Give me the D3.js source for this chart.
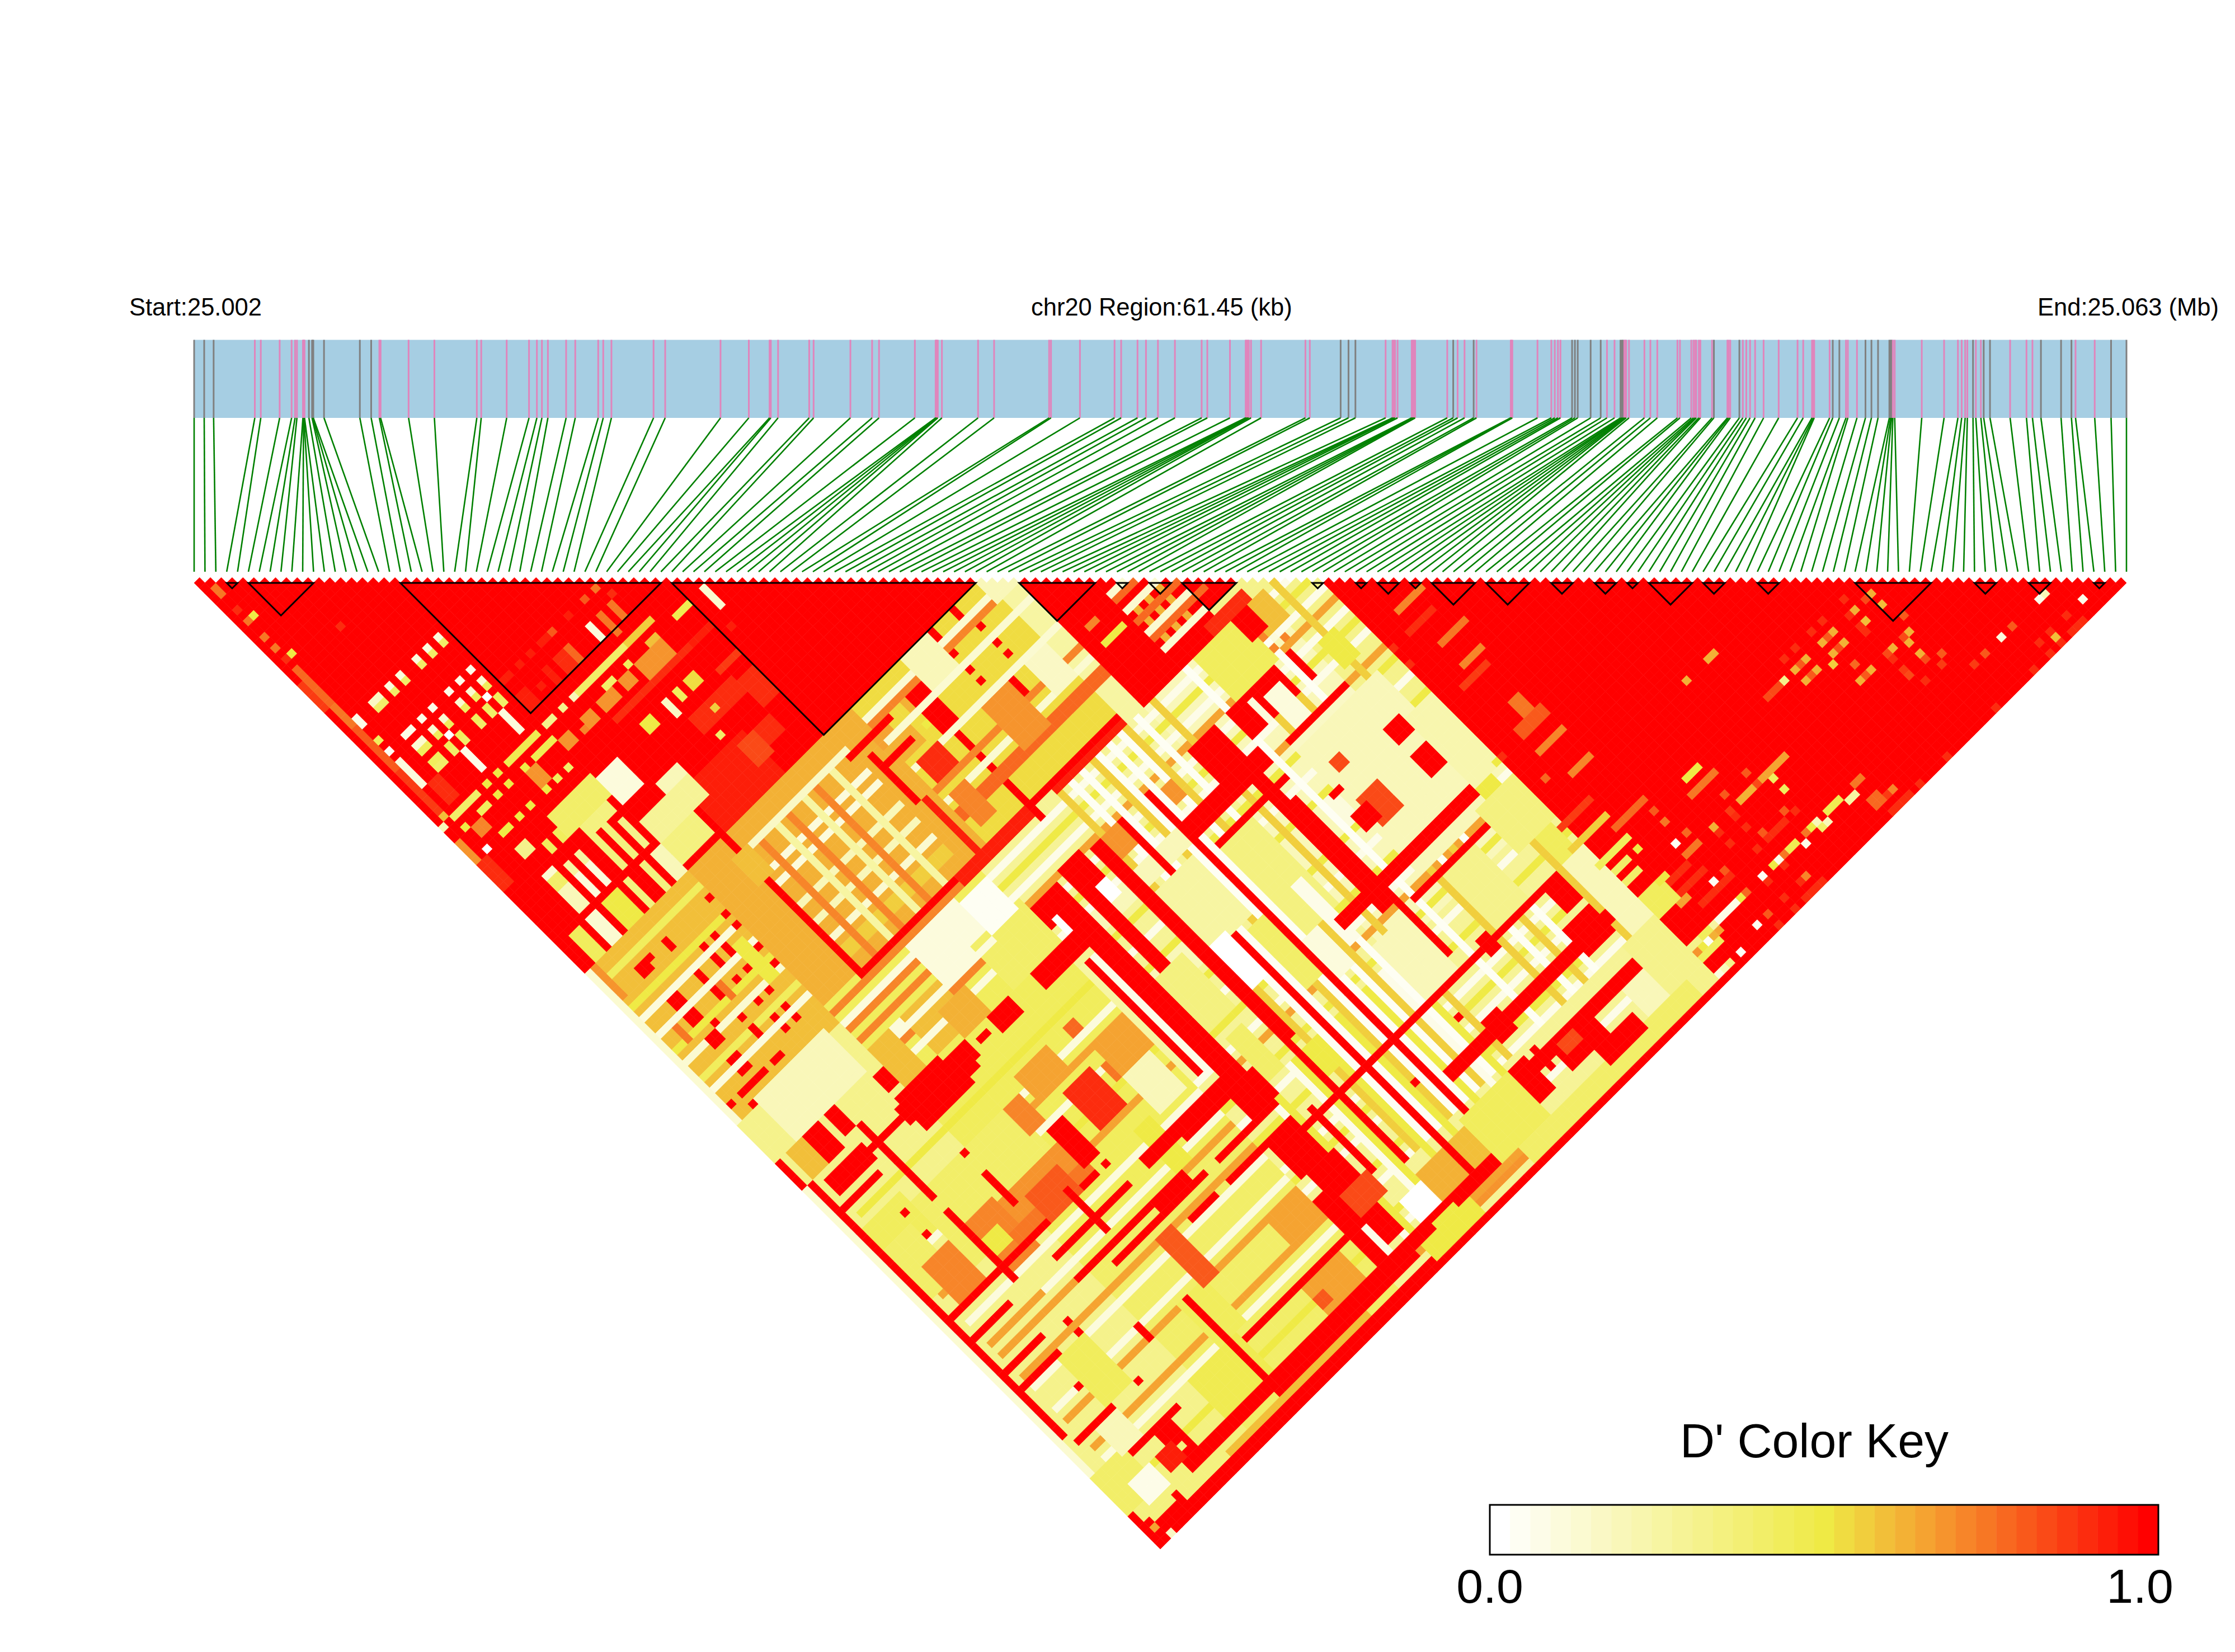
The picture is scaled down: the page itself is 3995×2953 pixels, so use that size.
<!DOCTYPE html>
<html><head><meta charset="utf-8">
<script src="https://cdn.jsdelivr.net/npm/d3@7"></script>
<style>html,body{margin:0;padding:0;background:#fff}svg{display:block}text{font-family:"Liberation Sans",Arial,sans-serif;fill:#000}</style>
</head><body><svg id="c" width="3995" height="2953"></svg>
<script>
const regionKb=61.45, startLabel="Start:25.002", midLabel="chr20 Region:61.45 (kb)", endLabel="End:25.063 (Mb)", keyTitle="D' Color Key", keyTicks=["0.0","1.0"];
const snpKb=[0,.32,.62,1.93,2.12,2.72,3.10,3.21,3.27,3.46,3.48,3.49,3.51,3.65,3.75,3.77,3.79,4.13,5.27,5.63,5.89,5.93,6.82,7.64,8.99,9.13,
9.94,10.65,10.90,11.06,11.25,11.83,12.12,12.85,13.01,13.27,14.61,14.98,16.74,17.64,18.30,18.34,18.57,19.56,19.70,20.87,21.56,21.78,22.92,23.58,23.60,23.62,23.65,23.78,24.93,25.44,27.19,27.25,28.17,29.27,
29.48,30.0,30.27,30.65,31.19,32.04,32.22,32.94,33.44,33.47,33.51,33.54,33.61,33.93,35.34,35.48,36.46,36.71,36.93,37.89,38.11,38.15,38.19,38.27,38.72,38.76,38.79,38.83,39.85,40.04,40.18,40.40,40.69,40.78,41.87,41.89,41.92,42.72,43.16,43.27,43.37,43.45,43.82,43.91,44.0,44.41,44.73,44.93,45.17,45.36,45.41,45.44,45.48,45.51,45.54,45.63,46.12,46.31,46.53,47.17,
47.25,47.61,47.68,47.73,47.77,47.85,47.90,48.27,48.33,48.76,48.80,48.85,49.14,49.25,49.36,49.48,49.64,49.91,50.39,50.99,51.17,51.45,51.49,51.52,52.01,52.11,52.32,52.53,52.59,52.88,53.15,53.34,53.55,53.91,53.95,53.98,54.02,54.08,54.94,55.65,56.09,56.21,56.32,56.39,56.57,56.66,56.82,56.91,57.11,57.75,58.27,58.46,58.73,59.37,59.70,59.83,60.44,60.96,61.45];
const grayKb=[0,.32,.62,3.65,3.75,3.77,3.79,4.13,5.27,5.63,36.46,36.71,36.93,40.04,40.69,43.82,43.91,44.0,44.41,44.73,45.36,45.41,45.44,48.33,49.14,52.11,52.32,53.15,53.34,53.55,53.91,53.95,53.98,56.57,56.91,57.11,58.73,59.37,59.70,60.96,61.45];
const blocks=[[3,4],[5,11],[19,43],[44,72],[76,83],[85,86],[88,90],[91,96],[103,104],[107,108],[109,111],[112,113],[114,118],[119,123],[125,127],[129,131],[132,133],[134,138],[139,141],[144,146],[153,160],[164,166],[169,171],[175,176]];
// D' readings as [SNP rows i, SNP columns j, value]; later readings refine earlier ones
const zones=[["0-178","0-178",.35],["0-18","0-72",1],["19-72","19-72",1],
["19-48","73-97",.62],["49-75","73-97",.52],["0-18","73-100",.58],["0-18","101-170",.32],["19-45","98-145",.45],["46-75","98-145",.28],["19-45","146-178",.42],["46-103","146-178",.28],["76-103","100-145",.2],
["76-96","76-99",1],["91-96","97-99",.3],["97-103","97-125",.3],["73-75","73-107",.25],["104-178","104-178",1]];
// stripes seen across the pale fields, read as whole columns and rows
const fieldStripes=[["3-45","124,129,140,144,152,156,165",.1],["3-45","126,135,146,150,158,163",.66],["3-45","120,132,170",.5],["19-45","99,102,104,108",.72],["19-45","101,106,110",.08],
["46-103","101,105,109,113,121,127,133,139,147,155,159,165,171",.06],["46-103","103,111,118,124,130,136,144,150,157,163,169",.5],["46-103","107,116,141,175",.66],
["50-100","125-128",.18],["62,64,67,69,71,74,83,89,93","100-165",.04],["60,66,72,77,87,91,99","100-165",.55],["52,57,61,65,70,75","146-172",.5],["51,56,73","146-172",.05],
["85,87,89,91,93,95","100,102,104,106",.72],["86,90,94","101,105",.1],["78-79","87",.72],["78-81","90",.5],["83-90","86,89,93,96",.12],["83-92","87,91,94",.78],["84,86,88","90,92,95",.62]];
const leftPatches=[["1","3-4",.75],["1","7",.9],["2","9",.5],["1","9",.75],["1","12",.75],["1","14",.75],["2","16",.5],["1","16",.9],["9","18",.92],
["1","18-24",.78],["0","20-24",.88],["1","25-28",.75],["2","28-29",.05],["1","29-36",.8],["1","37-44",.88],["1","45",.6],["2","32",.45],["2","34",.03],["2","36-37",.1],["2","38-40",.1],
["5-6","28",.15],["5-6","29",.42],["8,10,13,15,17","28",.1],["8,10,13,15,17","29",.42],["5-6,8,10,13,15,17","34",.05],["5-6,8,10,13,15,17","36",.12],["5-6,8,10,13,15,17","37",.45],
["16,9","38",0],["5-6,8,10,13,15,17","39",.45],["5-6,8,10,13,15,17","40",.42],["16","41-44",.1],["9","41-44",.05],["3-4","41-44",.9],
["2-6","46",.42],["0","46",.2],["5-6","48",.45],["10,8","46",.5],["10,8","48",.5],["10,8","52",.5],["5-6","52",.5],["3-4","49-50",.72],["2","48",.5],["2","52",0],["0","49-52",.7],["12-17","46",.48],["19-20","46",.3],["22","46",.3],["24","46",.2],["25-33","46",.42],["34-38","46",.55],
["41-43","48",.48],["36-37","48",.58],["32","48",.45],["28-29","48",.42],["30-31","49-50",.68],["26-28","49-50",.7],["33-37","49-51",.7],["26-39","52",.9],["23-24","49-50",.7],["22","50",.72],["19-20","49-50",.68],["15-18","48",.48],["17","52",.42],["15","52",.45],["13","52",.5],["13-14","49-51",.7],["13","48",.5],
["36","38",.75],["37","40",.92],["34","38",.8],["36","41-43",.75],["34","41-44",.75],["32","41-43",.08],["31","38",.93],["28","38",.8],["26-27","38",.93],["28","41-43",.78],["26-27","41-43",.92],["24","38",.95],["22","38",.95],["24","41-43",.95],["22","42",.95],["19-20","41-43",.95],["19-20","38",.95],
["36-37","55-56",.52],["34","55-56",.45],["32","55-57",.15],["28-29","55-56",.5],["46","48-51",.12],["40-43","57",.88],["40-43","52",.95],["45","54",.93],["41-43","60-64",.9],["33-40","59-61",.92],["26-36","65-72",.93],["36","60",.55],["34","63",.42],["35-37","66-69",.85],["38-40","66-68",.9],
["0-1","53-57",.92],["1","58-72",1],["2","53-57",1],["5-6","55-56",.3],["5-6","60",.12],["5-6","61-62",.4],["8,10","57-58",.45],["8,10","61-62",.25],["13,15","61-62",.35],["8,10","63-66",.08],["13,15","63-66",.35],["5-6","63-66",.2],["17","62-66",.3],
["13-17","57-60",.35],["19-27","64-67",.28],["12,15","68-72",.35],["8-10","68-72",.5],["5-6","68-72",.12],["2-3","68-72",.45],["19-24","68-71",.35],["17-18","68-72",.18],["11-18","55-58",.4],["24-27","62-63",.2],["19-22","56-60",.1]];
const leftLower=[["1-18","75",.45],["1-18","80",.5],["1-18","82",.1],["1-18","85",.1],["1-18","88",.5],["1-18","90",.12],["1-18","93",.45],["1-18","95",.1],
["5-6","77-78,83-84,86-87,90-91,94,96,98",1],["10","77-78,83-84,86-87,91,93-94,98",1],["13,15","81,83-84,87,91,94,96",1],["18","77,80,82,86,89",1],["7","77,89,98",1],["3-4","98,100",1],["1","98",1],["0","73-100",.12],["1","73-78",.7],
["14","100",1],["9","98",1],["3,11","86-88",.75],["16-17","84-90",.5]];
const farLeft=[["5-7","108-112",1],["2-4","108-112",.6],["0","108-112",1],["1","113-120",1],["1","121-159",1],["0","113-172",.14],["11","112-123",1],["9-10","108-111",1],["3-9","114-116",1],["2-8","118",1],["10-18","115",1],["16-24","114-116",1],["26-28","114-116",1],["17-25","118",1],["17-18","109-111",1],["30-31","115",1],["33-36","114-116",1],
["4-16","100-107",.18],["2-8","122-128",.45],["9-17","124-135",.42],["25-31","106-112",.6],["16-26","124-131",.42],["17-27","132-135",.7],["11-16","131-139",.72],["12-14","134-136",.5],["11","131-140",1],["8-16","138",1],["14-28","138",1],["17-30","142",1],["17-36","146",1],["22-38","148",1],["2-8","138,142,148,151,161",1],["11","128-132",1],["11","122-125",1],["18","128-133",1],["7","124,128",1],["18","124",1],["12","149-152",1],["11","157",1],["7","156",1],["18","156-158",1],["13","161",1],["2-6","126-134",.42],["4-8","131-137",.72],["15-28","136-137",.75],["3-12","144",.66],["3-12","150",.66],["30","138",1],["31-36","147-148",1],["30","151",1],["33-37","151",1],["25","146",1],
["2-14","167",1],["10-12","167-170",1],["12","168-172",1],["2-6","175-176",1],["0-5","166-172",.42],["3-6","170-173",.05],["8-12","152-160",.45],["5-8","162-166",.2]];
const mid1=[["25","73-98",1],["55-57","76-84",1],["56","84-100",1],["25-72","98",1],["43-55","98-99",.95],["60-72","99",.95],["67","73-76",1],["63","73-76",1],["63,68","77,80,82",1],["66","84-87",1],["54","77-79",.62],["54","81",.5],
["48-50","77-79",.65],["49-52","80-82",.62],["44-51","77",1],["46-51","81",1],["46","79-87",1],["47","88-97",.95],["26-44","86",.2],["26-44","92",.12],["26-44","80,82",.1],["26-44","89",.18],["26-44","76",.15],["26-44","94-95",.55],["49-75","75,79,84,90",.12],["49-75","76,88",.72],["49-75","92-93",.78],
["28,33,38","77-97",.72],["31,36,41","77-97",.25],["24-26","76-80",.6],["58-62","73-78",.2],["69-72","85-90",.15],["61-65","85-92",.68],["50-53","84-87",.92],["50-52","90-95",.72],["72-75","73-76",.2]];
const midZone=[["46-75","114-116",.2],["41-50","114-116",1],["49-51","108-142",1],["46-48","108-111",1],["48","111-113",0],["48","118-138",.05],["47","118-138",1],["46","118-138",.25],["68","108-172",1],["63","108-173",1],["58-59","108-143",1],["53-56","107-112",1],["55-56","112-114",0],["53-54","112-125",1],
["68-82","114-116",1],["70-82","119",1],["83-90","108-112",1],["86","109-112",.1],["78-79","108-114",1],["76-77","108-114",1],["70-71","109-111",.68],["60-62","108-111",.68],
["38-46","106-113",.42],["41-45","101-106",.02],["32-40","100-105",.08],["22-40","107",.08],["25-37","110",.1],["29-33","109-113",.62],
["39-41","129-131",.75],["39-40","122-123",.78],["40-44","131-138",.2],["40-45","127-131",.65],["19-22","106-112",.58],["17-24","113-117",1],["25-27","114-117",1],["30-35","122-126",.66],["26-28","124-128",.72],["33-37","128-134",.9],["28-30","130-136",1],["20-25","134-138",.8],["24","137-144",1],["36-38","138-145",.5],
["60-66","118-128",.25],["70-75","120-135",.35],["84-88","125-129",.08],["52-56","126-135",.35],["53-55","138-145",.42],["58-60","146-150",.5],["65-67","130-140",.42],["60-62","128-135",0],["73-74","130-140",.05],["69-71","136-142",.08]];
const rightMid=[["94-97","100-104",.6],["85-92","100-107",.45],["98-100","110-114",.5],["94","108-112",1],["91","108-112",1],["86-100","118-140",.2],["87-90","128-132",.85],["88-89","122-123",.85],["85-87","129-131",1],["85-86","125",1],["96-98","129-132",1],["96-98","124-126",1],["86-96","117",.15],["86-96","116",1],["74-98","137-138",1],["83-97","142",1],["48-96","153",1],["70-103","161-162",1],["74-101","168-169",1],["81","122-150",1],["79-80","108-140",1],["96-98","153-157",1],["94-98","159-163",1],["85-86","152-154",1],["78-79","153",1],["78-80","160-163",1],["99-101","138-141",.5],["97-103","140-147",.35],["99-103","125-137",.22],["94-100","170-174",.2],["76-78","167-172",1],["80","167-170",1],["74","168-172",1],["82-88","168-172",1],["83-85","169-170",.85],["85-90","176-177",.12],
["100-102","148-152",.45],["100-103","153-165",.2],["98-103","166-178",.3],["88-93","143-152",.3],["75-80","143-152",.2],["92-94","100-103",1],["88-90","110-115",.1],["89-95","98-99",.9],["104-107","163-166",.45],["104-107","172-174",.45],["104-106","158,160",.4],
["58","144-165",1],["54","152-163",1],["66","159",1],["76","157",1]];
const leftBand=[["13-70","173-174",1],["25-50","175",1],["15-40","176",.58],["0-178","178",1],["0-60","177",1],["0","173-178",1],["1-4","175-177",1],["1","176",.65],["2","178",.15],["2-5","174-175",.35],
["48-52","143-147",1],["40-48","141-143",1],["41-51","148",1],["40-51","151",1],["47-51","152-157",1],["48-52","158-162",1],["47-51","167-171",1],["46-48","161-172",1],["18-49","167",1],["40-45","158-162",.66],["49-53","163-166",.85],["37-43","168-172",.66],["37-38","170-171",.8],["18-26","166-172",.46],["24-28","158-165",.44],["25","158-172",1],["32-38","148",1],["33-37","151",1],["34-46","141-142",1],["28-30","150-158",.8],["10-12","172-174",1],["8-10","170-172",.95],["58-62","168-172",.62],["64-67","168-172",.6],["67-75","167-174",.45],["54-57","169-172",0],["48","168-172",.05],["55-58","174",.5],
["52-60","175-177",.5],["61-70","176",.7],["70-100","175-177",.4],["86-92","173-175",1]];
const rightRows=[[103,137,.5],[150,154,.9],[153,156,.62],[152,156,.85],[153,158,.6],[154,161,.82],[150,156,.62],[149,156,.9],[146,154,.9],[144,154,.9],[146,156,.62],[145,156,.8],[144,156,.62],[150,158,.6],[149,158,.9],[149,159,.9],[146,158,.62],[145,158,.85],[144,158,.62],[143,159,.55],[141,154,.9],[139,154,.9],[141,156,.62],[140,156,.8],[139,156,.62],[141,158,.62],[140,158,.82],[139,158,.62],[137,156,.3],[136,156,.85],[128,147,.62],[145,161,.78],[146,163,.62],[145,163,.8],[144,163,.62],[153,163,.62],[152,163,.85],[152,164,.62],[150,163,.62],[149,163,.85],[149,164,.9],[152,166,.62],[152,167,.85],[154,168,.8],[153,169,.88],[149,166,.88],[149,167,.85],[150,169,.9],[156,172,.88],[158,172,.82],[163,172,.82],[161,172,.1],[169,176,.92],[172,176,.05],[169,172,.2],[168,172,.05],[166,176,.9],[166,177,.6],[166,178,.9],[164,176,.9],[164,178,.9],[161,178,.9],[154,178,.9],[145,178,.9],[140,178,.9],[137,176,.72],[136,176,.88],[127,172,.2],[126,172,.5],[125,172,.75],[128,173,.2],[127,173,.42],[124,173,.05],[121,172,.75],[120,172,.05],[119,172,.5],[120,173,.9],[117,172,.02],[117,173,.9],[121,176,.72],[120,176,.9],[117,176,.9],[117,178,.9],[114,176,.72],[114,178,.9],[112,176,.12],[108,177,.03],[125,161,.8],[127,163,.78],[126,163,.65],[125,163,.85],[127,164,.45],[127,166,.45],[121,161,.8],[120,163,.88],[120,164,.9],[125,168,.8],[126,169,.92],[121,168,.8],[120,166,.92],[117,166,.9],[119,169,.9],[114,161,.78],[114,163,.82],[113,163,.62],[112,163,.62],[114,168,.8],[114,169,.9],[112,168,.03],[114,172,.78],[113,172,.5],[108,172,.25],[107,173,.62],[108,173,.65],[105,172,.1],[106,173,.03],[105,173,.5],[104,173,.68],[106,177,.3],[105,177,.2],[104,177,.1],[117,163,.62],[117,164,.9],[104,117,.9],[104,120,.9],[108,117,.78],[104,137,.9],[106,143,.78],[112,161,.03],[112,176,.02],[108,177,.02],[117,172,.02],[114,176,.8]];
const rightSpans=[["168-170","178",.92],["134-135","175-176",.78],["134-135","172",.75],["132-133","173",.25],["129-131","172",.48],["122-123","172",.48],["122-124","163",.62],["121-124","169",.92],["109-112","172",.05],["109-113","169",.92],["109-111","166",.9],["108-111","164",.92],["135-138","178",.92],["119-122","178",.9],["134-135","156",.85],["132-133","147",.62],
["107-111","117",.92],["108-112","114",.72],["109-113","121",.75],["109-112","125",.72],["107-111","127",.88],["110-111","133-136",.75],["108-112","136-137",.82],["108-112","140",.72],["109-112","145",.72],["103-108","149",.88],["102-108","152",.55],["108-113","154",.78],["113","156",.8],["113","158",.75],["112-114","163",.75],["107-108","156",.45],["108","158",.5],["103-107","156",.45],["107-108","163",.5],["108-112","166",.9],["107-108","167",.65],["127-130","163",.65],["119-121","156",.5],["118-122","158",.75],["104-105","172",.3]];
const cellList=[...zones,...fieldStripes,...leftPatches,...leftLower,...farLeft,...mid1,...midZone,...rightMid,...leftBand,...rightRows.map(d=>[String(d[0]),String(d[1]),d[2]]),...rightSpans];

const W=3995,H=2953,n=snpKb.length;
const parseSpec=s=>String(s).split(",").flatMap(p=>{const q=p.split("-").map(Number);return q.length>1?d3.range(q[0],q[1]+1):q;});
const D=new Map();
cellList.forEach(([a,b,v])=>{const A=parseSpec(a),B=parseSpec(b);A.forEach(i=>B.forEach(j=>{if(i<j&&j<n)D.set(i*1000+j,v);}));});
const cells=[];for(let i=0;i<n;i++)for(let j=i+1;j<n;j++)cells.push({i,j,v:D.has(i*1000+j)?D.get(i*1000+j):.35});

const x=d3.scaleLinear().domain([0,n-1]).range([347,3801]);
const xKb=d3.scaleLinear().domain([0,regionKb]).range([347,3801]);
const step=x(1)-x(0);
const y=d3.scaleLinear().domain([0,n-2]).range([1042,1042+(n-2)*step/2]);
const nBins=33;
const color=d3.scaleLinear().domain([0,.5,.667,1]).range(["#ffffff","#efea45","#f59e30","#ff0000"]).interpolate(d3.interpolateRgb);
const binned=v=>color(Math.round(v*(nBins-1))/(nBins-1));
const svg=d3.select("#c");
svg.append("rect").attr("width",W).attr("height",H).attr("fill","#fff");
const g=svg.append("g");
g.append("rect").attr("x",xKb(0)).attr("y",607.5).attr("width",xKb(regionKb)-xKb(0)).attr("height",139.5).attr("fill","#a6cee3");
const graySet=new Set(grayKb);
g.selectAll("line.t").data(snpKb).join("line").attr("class","t").attr("x1",d=>xKb(d)).attr("x2",d=>xKb(d)).attr("y1",607.5).attr("y2",747).attr("stroke",d=>graySet.has(d)?"#808080":"#e085bc").attr("stroke-width",3);
g.selectAll("line.l").data(snpKb).join("line").attr("class","l").attr("x1",d=>xKb(d)).attr("x2",(d,i)=>x(i)).attr("y1",747).attr("y2",1022).attr("stroke","#008000").attr("stroke-width",2.6);
const half=step/2;
g.selectAll("path.c").data(cells).join("path").attr("class","c").attr("fill",d=>binned(d.v)).attr("stroke",d=>binned(d.v)).attr("stroke-width",.7).attr("d",d=>{const cx=x((d.i+d.j)/2),cy=y(d.j-d.i-1);return `M${cx-half},${cy}L${cx},${cy-half}L${cx+half},${cy}L${cx},${cy+half}Z`;});
g.selectAll("path.b").data(blocks).join("path").attr("class","b").attr("fill","none").attr("stroke","#000").attr("stroke-width",3).attr("d",d=>{const a=x(d[0]),b=x(d[1]);return `M${a},1042L${b},1042L${(a+b)/2},${1042+(b-a)/2}Z`;});
g.append("text").attr("x",231).attr("y",564).attr("font-size",43.5).text(startLabel);
g.append("text").attr("x",1843).attr("y",564).attr("font-size",43.5).text(midLabel);
g.append("text").attr("x",3642).attr("y",564).attr("font-size",43.5).text(endLabel);
const kx=d3.scaleBand().domain(d3.range(nBins)).range([2663,3858]);
g.selectAll("rect.k").data(d3.range(nBins)).join("rect").attr("class","k").attr("x",d=>kx(d)).attr("y",2690).attr("width",kx.bandwidth()+.5).attr("height",89).attr("fill",d=>color(d/(nBins-1)));
g.append("rect").attr("x",2663).attr("y",2690).attr("width",1195).attr("height",89).attr("fill","none").attr("stroke","#000").attr("stroke-width",3);
g.append("text").attr("x",3243).attr("y",2605).attr("font-size",86).attr("text-anchor","middle").text(keyTitle);
g.append("text").attr("x",2663).attr("y",2865).attr("font-size",86).attr("text-anchor","middle").text(keyTicks[0]);
g.append("text").attr("x",3825).attr("y",2865).attr("font-size",86).attr("text-anchor","middle").text(keyTicks[1]);
</script></body></html>
